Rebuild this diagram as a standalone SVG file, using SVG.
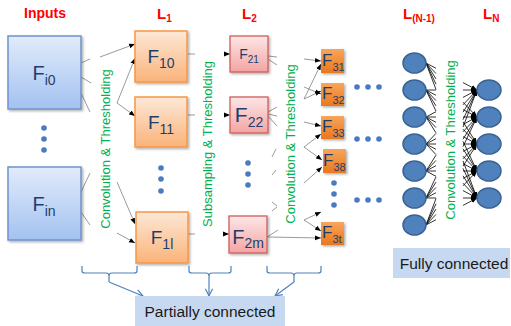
<svg xmlns="http://www.w3.org/2000/svg" width="511" height="326" viewBox="0 0 511 326">
<style>
.lbl{font-family:"Liberation Sans",Arial,sans-serif;font-weight:bold;fill:#ff0000;font-size:14px}
.L{font-size:15px}
.sub{font-size:10px}
.ft{font-family:"Liberation Sans",Arial,sans-serif;fill:#1f3d6b}
.grn{font-family:"Liberation Sans",Arial,sans-serif;fill:#00b050;font-size:13px;text-anchor:middle}
.cap{font-family:"Liberation Sans",Arial,sans-serif;fill:#1a1a1a;font-size:15.5px;text-anchor:middle}
.cn line{stroke:#808080;stroke-width:0.8}
.cn line.a{marker-end:url(#ah)}
.fc line{stroke:#000;stroke-width:0.8}
.fc line.a{marker-end:url(#ah)}
.dot{fill:#4a7bc0}
.neu{fill:#4f81bd;stroke:#3a6394;stroke-width:1.5}
.br{fill:none;stroke:#4f81bd;stroke-width:1.2}
.ba{fill:none;stroke:#4f81bd;stroke-width:1.2;marker-end:url(#oa)}
</style>
<defs>
<linearGradient id="gIn" x1="0" y1="0" x2="0" y2="1"><stop offset="0" stop-color="#e1ebfa"/><stop offset="1" stop-color="#a3c2f1"/></linearGradient>
<linearGradient id="gOr" x1="0" y1="0" x2="0" y2="1"><stop offset="0" stop-color="#fde8d6"/><stop offset="1" stop-color="#fab37a"/></linearGradient>
<linearGradient id="gPk" x1="0" y1="0" x2="0" y2="1"><stop offset="0" stop-color="#fde6e6"/><stop offset="1" stop-color="#f3a5a3"/></linearGradient>
<linearGradient id="gF3" x1="0" y1="0" x2="0" y2="1"><stop offset="0" stop-color="#f9a55a"/><stop offset="1" stop-color="#e8781e"/></linearGradient>
<filter id="sh" x="-20%" y="-20%" width="150%" height="150%"><feDropShadow dx="1.5" dy="1.5" stdDeviation="1" flood-color="#000" flood-opacity="0.3"/></filter>
<marker id="ah" viewBox="0 0 6 6" refX="6" refY="3" markerWidth="6" markerHeight="6" markerUnits="userSpaceOnUse" orient="auto"><path d="M0,0.6 L6,3 L0,5.4 z" fill="#000"/></marker>
<marker id="oa" viewBox="0 0 10 10" refX="9" refY="5" markerWidth="9" markerHeight="9" markerUnits="userSpaceOnUse" orient="auto"><path d="M1,1 L9,5 L1,9" fill="none" stroke="#4f81bd" stroke-width="1.3"/></marker>
</defs>
<rect width="511" height="326" fill="#fff"/>

<!-- layer labels -->
<text class="lbl" x="45" y="18" text-anchor="middle">Inputs</text>
<text class="lbl L" x="157" y="19">L<tspan class="sub" dy="3">1</tspan></text>
<text class="lbl L" x="242" y="19">L<tspan class="sub" dy="3">2</tspan></text>
<text class="lbl L" x="403" y="19">L<tspan class="sub" dy="3">(N-1)</tspan></text>
<text class="lbl L" x="483" y="19">L<tspan class="sub" dy="3">N</tspan></text>

<!-- connectors -->
<g id="connectors">
<g class="cn">
<line x1="81" y1="63" x2="90" y2="59"/>
<line x1="81" y1="77" x2="91" y2="83"/>
<line x1="81" y1="93" x2="90" y2="112"/>
<line x1="81" y1="192" x2="90" y2="173"/>
<line x1="81" y1="212" x2="90" y2="225"/>
<line class="a" x1="100" y1="57" x2="135" y2="44"/>
<line class="a" x1="117" y1="103" x2="135" y2="58"/>
<line class="a" x1="117" y1="103" x2="135" y2="116"/>
<line class="a" x1="117" y1="182" x2="135" y2="224"/>
<line class="a" x1="117" y1="233" x2="135" y2="243"/>

<line x1="188" y1="54" x2="195" y2="54"/>
<line class="a" x1="225" y1="54" x2="230" y2="54"/>
<line x1="188" y1="115" x2="195" y2="115"/>
<line class="a" x1="225" y1="115" x2="230" y2="115"/>
<line x1="188" y1="234" x2="195" y2="234"/>
<line class="a" x1="224" y1="234" x2="229" y2="234"/>

<line x1="268" y1="56" x2="277" y2="57"/>
<line x1="268" y1="59" x2="277" y2="65"/>
<line x1="268" y1="112" x2="277" y2="107"/>
<line x1="268" y1="114" x2="277" y2="116"/>
<line x1="268" y1="116" x2="277" y2="126"/>
<line x1="272" y1="157" x2="276" y2="149"/>
<line x1="272" y1="175" x2="276" y2="170"/>
<line x1="272" y1="202" x2="277" y2="206"/>
<line x1="272" y1="211" x2="277" y2="207"/>
<line x1="267" y1="237" x2="278" y2="230"/>
<line class="a" x1="304" y1="59" x2="321" y2="61"/>
<line class="a" x1="304" y1="99" x2="321" y2="64"/>
<line class="a" x1="304" y1="87" x2="321" y2="94"/>
<line class="a" x1="304" y1="99" x2="321" y2="91"/>
<line class="a" x1="304" y1="122" x2="321" y2="126"/>
<line class="a" x1="304" y1="147" x2="321" y2="134"/>
<line class="a" x1="304" y1="147" x2="322" y2="160"/>
<line class="a" x1="304" y1="183" x2="322" y2="167"/>
<line class="a" x1="304" y1="220" x2="321" y2="212"/>
<line class="a" x1="304" y1="220" x2="321" y2="231"/>
<line class="a" x1="268" y1="237" x2="321" y2="238"/>
</g>
<g class="fc">
<line x1="426" y1="63" x2="436" y2="68.3"/><line x1="426" y1="63" x2="436" y2="73.6"/><line x1="426" y1="63" x2="436" y2="78.9"/><line x1="426" y1="63" x2="436" y2="84.2"/><line x1="426" y1="63" x2="436" y2="89.5"/>
<line x1="426" y1="90" x2="436" y2="90"/><line x1="426" y1="90" x2="436" y2="95.3"/><line x1="426" y1="90" x2="436" y2="100.6"/><line x1="426" y1="90" x2="436" y2="105.9"/><line x1="426" y1="90" x2="436" y2="111.2"/>
<line x1="426" y1="117" x2="436" y2="111.7"/><line x1="426" y1="117" x2="436" y2="117"/><line x1="426" y1="117" x2="436" y2="122.3"/><line x1="426" y1="117" x2="436" y2="127.6"/><line x1="426" y1="117" x2="436" y2="132.9"/>
<line x1="426" y1="144" x2="436" y2="133.4"/><line x1="426" y1="144" x2="436" y2="138.7"/><line x1="426" y1="144" x2="436" y2="144"/><line x1="426" y1="144" x2="436" y2="149.3"/><line x1="426" y1="144" x2="436" y2="154.6"/>
<line x1="426" y1="171" x2="436" y2="155.1"/><line x1="426" y1="171" x2="436" y2="160.4"/><line x1="426" y1="171" x2="436" y2="165.7"/><line x1="426" y1="171" x2="436" y2="171"/><line x1="426" y1="171" x2="436" y2="176.3"/>
<line x1="426" y1="198" x2="436" y2="176.8"/><line x1="426" y1="198" x2="436" y2="182.1"/><line x1="426" y1="198" x2="436" y2="187.4"/><line x1="426" y1="198" x2="436" y2="192.7"/><line x1="426" y1="198" x2="436" y2="198"/>
<line x1="426" y1="225" x2="436" y2="198.5"/><line x1="426" y1="225" x2="436" y2="203.8"/><line x1="426" y1="225" x2="436" y2="209.1"/><line x1="426" y1="225" x2="436" y2="214.4"/><line x1="426" y1="225" x2="436" y2="219.7"/>

<line class="a" x1="463" y1="82.6" x2="477" y2="90"/><line class="a" x1="463" y1="90" x2="477" y2="90"/><line class="a" x1="463" y1="97.4" x2="477" y2="90"/><line class="a" x1="463" y1="104.8" x2="477" y2="90"/><line class="a" x1="463" y1="112.2" x2="477" y2="90"/><line class="a" x1="463" y1="119.6" x2="477" y2="90"/><line class="a" x1="463" y1="127.1" x2="477" y2="90"/>
<line class="a" x1="463" y1="102.2" x2="477" y2="117"/><line class="a" x1="463" y1="109.6" x2="477" y2="117"/><line class="a" x1="463" y1="117" x2="477" y2="117"/><line class="a" x1="463" y1="124.4" x2="477" y2="117"/><line class="a" x1="463" y1="131.8" x2="477" y2="117"/><line class="a" x1="463" y1="139.2" x2="477" y2="117"/><line class="a" x1="463" y1="146.6" x2="477" y2="117"/>
<line class="a" x1="463" y1="121.8" x2="477" y2="144"/><line class="a" x1="463" y1="129.2" x2="477" y2="144"/><line class="a" x1="463" y1="136.6" x2="477" y2="144"/><line class="a" x1="463" y1="144" x2="477" y2="144"/><line class="a" x1="463" y1="151.4" x2="477" y2="144"/><line class="a" x1="463" y1="158.8" x2="477" y2="144"/><line class="a" x1="463" y1="166.2" x2="477" y2="144"/>
<line class="a" x1="463" y1="141.4" x2="477" y2="171"/><line class="a" x1="463" y1="148.8" x2="477" y2="171"/><line class="a" x1="463" y1="156.2" x2="477" y2="171"/><line class="a" x1="463" y1="163.6" x2="477" y2="171"/><line class="a" x1="463" y1="171" x2="477" y2="171"/><line class="a" x1="463" y1="178.4" x2="477" y2="171"/><line class="a" x1="463" y1="185.8" x2="477" y2="171"/>
<line class="a" x1="463" y1="160.9" x2="477" y2="198"/><line class="a" x1="463" y1="168.4" x2="477" y2="198"/><line class="a" x1="463" y1="175.8" x2="477" y2="198"/><line class="a" x1="463" y1="183.2" x2="477" y2="198"/><line class="a" x1="463" y1="190.6" x2="477" y2="198"/><line class="a" x1="463" y1="198" x2="477" y2="198"/><line class="a" x1="463" y1="205.4" x2="477" y2="198"/>
</g>
<g id="braces">
<path class="br" d="M82,266 V271 Q82,273 85,273 H106 Q109,273 109,276 V282 M109,276 Q109,273 112,273 H134 Q137,273 137,271 V266"/>
<path class="ba" d="M109,282 L143,296"/>
<path class="br" d="M189,266 V271 Q189,273 192,273 H206 Q209,273 209,276 V282 M209,276 Q209,273 212,273 H228 Q231,273 231,271 V266"/>
<path class="ba" d="M209,282 L209,296"/>
<path class="br" d="M267,266 V271 Q267,273 270,273 H291 Q294,273 294,276 V282 M294,276 Q294,273 297,273 H318 Q321,273 321,271 V266"/>
<path class="ba" d="M294,282 L275,296"/>
</g>
</g>

<!-- rotated operation labels -->
<text class="grn" transform="translate(109.5,149) rotate(-90)">Convolution &amp; Thresholding</text>
<text class="grn" transform="translate(211.5,144) rotate(-90)">Subsampling &amp; Thresholding</text>
<text class="grn" transform="translate(294.5,144) rotate(-90)">Convolution &amp; Thresholding</text>
<text class="grn" transform="translate(454.5,140) rotate(-90)">Convolution &amp; Thresholding</text>

<!-- inputs -->
<g id="Fi0"><rect x="8" y="36" width="73" height="73" fill="url(#gIn)" stroke="#6e94cc" stroke-width="1.5" filter="url(#sh)"/><text class="ft" x="44" y="80" text-anchor="middle" font-size="20">F<tspan font-size="14" dy="5">i0</tspan></text></g>
<g id="Fin"><rect x="8" y="167" width="73" height="73" fill="url(#gIn)" stroke="#6e94cc" stroke-width="1.5" filter="url(#sh)"/><text class="ft" x="44" y="211" text-anchor="middle" font-size="20">F<tspan font-size="14" dy="5">in</tspan></text></g>
<g id="dotsIn"><circle class="dot" cx="44" cy="128" r="2.8"/><circle class="dot" cx="44" cy="139" r="2.8"/><circle class="dot" cx="44" cy="150" r="2.8"/></g>

<!-- L1 -->
<g id="F10"><rect x="135" y="31" width="52" height="51" fill="url(#gOr)" stroke="#f79646" stroke-width="1.5" filter="url(#sh)"/><text class="ft" x="161" y="63" text-anchor="middle" font-size="19">F<tspan font-size="14" dy="5">10</tspan></text></g>
<g id="F11"><rect x="135" y="97" width="52" height="50" fill="url(#gOr)" stroke="#f79646" stroke-width="1.5" filter="url(#sh)"/><text class="ft" x="161" y="129" text-anchor="middle" font-size="19">F<tspan font-size="14" dy="5">11</tspan></text></g>
<g id="F1l"><rect x="136" y="212" width="52" height="51" fill="url(#gOr)" stroke="#f79646" stroke-width="1.5" filter="url(#sh)"/><text class="ft" x="162" y="244" text-anchor="middle" font-size="19">F<tspan font-size="14" dy="5">1l</tspan></text></g>
<g id="dotsL1"><circle class="dot" cx="161" cy="168" r="2.8"/><circle class="dot" cx="161" cy="179" r="2.8"/><circle class="dot" cx="161" cy="191" r="2.8"/></g>

<!-- L2 -->
<g id="F21"><rect x="230" y="36" width="38" height="36" fill="url(#gPk)" stroke="#cf5d5a" stroke-width="1.3" filter="url(#sh)"/><text class="ft" x="249" y="59" text-anchor="middle" font-size="14">F<tspan font-size="10" dy="4">21</tspan></text></g>
<g id="F22"><rect x="230" y="97" width="38" height="36" fill="url(#gPk)" stroke="#cf5d5a" stroke-width="1.3" filter="url(#sh)"/><text class="ft" x="249" y="122" text-anchor="middle" font-size="21">F<tspan font-size="14" dy="5">22</tspan></text></g>
<g id="F2m"><rect x="229" y="216" width="38" height="37" fill="url(#gPk)" stroke="#cf5d5a" stroke-width="1.3" filter="url(#sh)"/><text class="ft" x="248" y="244" text-anchor="middle" font-size="20">F<tspan font-size="14" dy="4">2m</tspan></text></g>
<g id="dotsL2"><circle class="dot" cx="248" cy="163" r="2.8"/><circle class="dot" cx="248" cy="174" r="2.8"/><circle class="dot" cx="248" cy="185" r="2.8"/></g>

<!-- L3 -->
<g id="F31"><rect x="321" y="49" width="23" height="24" fill="url(#gF3)" filter="url(#sh)"/><text class="ft" x="322" y="66" font-size="17">F<tspan font-size="11" dy="5">31</tspan></text></g>
<g id="F32"><rect x="321" y="83" width="23" height="23" fill="url(#gF3)" filter="url(#sh)"/><text class="ft" x="322" y="99" font-size="17">F<tspan font-size="11" dy="5">32</tspan></text></g>
<g id="F33"><rect x="321" y="116" width="23" height="23" fill="url(#gF3)" filter="url(#sh)"/><text class="ft" x="322" y="132" font-size="17">F<tspan font-size="11" dy="5">33</tspan></text></g>
<g id="F38"><rect x="323" y="149" width="23" height="24" fill="url(#gF3)" filter="url(#sh)"/><text class="ft" x="323" y="166" font-size="17">F<tspan font-size="11" dy="5">38</tspan></text></g>
<g id="F3t"><rect x="321" y="222" width="23" height="23" fill="url(#gF3)" filter="url(#sh)"/><text class="ft" x="322" y="238" font-size="17">F<tspan font-size="11" dy="5">3t</tspan></text></g>
<g id="dotsL3"><circle class="dot" cx="334" cy="183" r="2.8"/><circle class="dot" cx="334" cy="194" r="2.8"/><circle class="dot" cx="334" cy="205" r="2.8"/></g>

<g id="hdots">
<circle class="dot" cx="357" cy="87" r="2.8"/><circle class="dot" cx="368" cy="87" r="2.8"/><circle class="dot" cx="379" cy="87" r="2.8"/>
<circle class="dot" cx="357" cy="139" r="2.8"/><circle class="dot" cx="368" cy="139" r="2.8"/><circle class="dot" cx="379" cy="139" r="2.8"/>
<circle class="dot" cx="357" cy="200" r="2.8"/><circle class="dot" cx="368" cy="200" r="2.8"/><circle class="dot" cx="379" cy="200" r="2.8"/>
</g>

<!-- L(N-1) neurons -->
<g id="LN1">
<ellipse class="neu" cx="414.5" cy="63" rx="11.5" ry="10"/>
<ellipse class="neu" cx="414.5" cy="90" rx="11.5" ry="10"/>
<ellipse class="neu" cx="414.5" cy="117" rx="11.5" ry="10"/>
<ellipse class="neu" cx="414.5" cy="144" rx="11.5" ry="10"/>
<ellipse class="neu" cx="414.5" cy="171" rx="11.5" ry="10"/>
<ellipse class="neu" cx="414.5" cy="198" rx="11.5" ry="10"/>
<ellipse class="neu" cx="414.5" cy="225" rx="11.5" ry="10"/>
</g>
<g id="LN">
<ellipse class="neu" cx="489" cy="90" rx="12" ry="10"/>
<ellipse class="neu" cx="489" cy="117" rx="12" ry="10"/>
<ellipse class="neu" cx="489" cy="144" rx="12" ry="10"/>
<ellipse class="neu" cx="489" cy="171" rx="12" ry="10"/>
<ellipse class="neu" cx="489" cy="198" rx="12" ry="10"/>
</g>

<g id="fully"><rect x="393" y="248" width="117" height="30" fill="#c6d9f1"/><text class="cap" x="454" y="269">Fully connected</text></g>
<g id="partially"><rect x="135" y="296" width="150" height="30" fill="#c6d9f1"/><text class="cap" x="210" y="317">Partially connected</text></g>
</svg>
